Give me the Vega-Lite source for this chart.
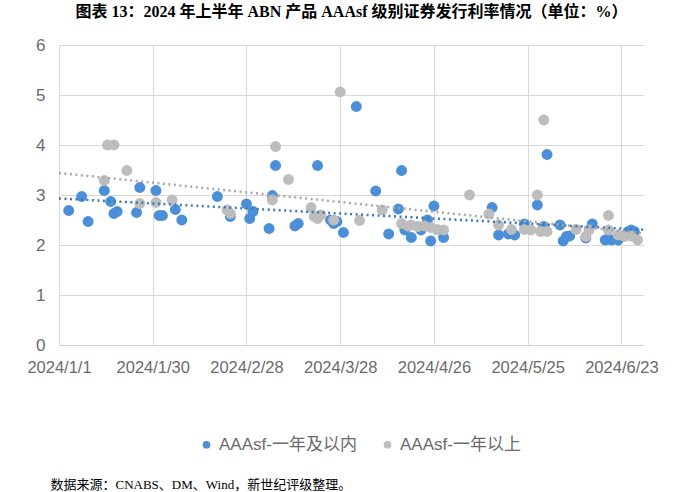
{
  "$schema": "https://vega.github.io/schema/vega-lite/v6.json",
  "width": 585,
  "height": 300,
  "autosize": {"type": "none"},
  "padding": {"left": 59, "top": 45, "right": 56, "bottom": 147},
  "background": "white",
  "title": {
    "text": "图表 13：2024 年上半年 ABN 产品 AAAsf 级别证券发行利率情况（单位：%）",
    "font": "Liberation Serif, Noto Sans CJK SC",
    "fontSize": 16,
    "fontWeight": "bold",
    "color": "#000000",
    "anchor": "middle",
    "offset": 16
  },
  "config": {
    "view": {"stroke": null},
    "axis": {"labelFont": "Liberation Sans", "labelColor": "#6b6b6b", "gridColor": "#d9d9d9", "gridWidth": 1, "ticks": false}
  },
  "data": {
    "format": {"parse": {"date": "date"}},
    "values": [
      {"date": "2024-01-04", "rate": 2.69, "series": "AAAsf-一年及以内"},
      {"date": "2024-01-08", "rate": 2.97, "series": "AAAsf-一年及以内"},
      {"date": "2024-01-10", "rate": 2.47, "series": "AAAsf-一年及以内"},
      {"date": "2024-01-15", "rate": 3.09, "series": "AAAsf-一年及以内"},
      {"date": "2024-01-17", "rate": 2.87, "series": "AAAsf-一年及以内"},
      {"date": "2024-01-18", "rate": 2.63, "series": "AAAsf-一年及以内"},
      {"date": "2024-01-19", "rate": 2.67, "series": "AAAsf-一年及以内"},
      {"date": "2024-01-25", "rate": 2.65, "series": "AAAsf-一年及以内"},
      {"date": "2024-01-26", "rate": 3.15, "series": "AAAsf-一年及以内"},
      {"date": "2024-01-31", "rate": 3.09, "series": "AAAsf-一年及以内"},
      {"date": "2024-02-01", "rate": 2.59, "series": "AAAsf-一年及以内"},
      {"date": "2024-02-02", "rate": 2.59, "series": "AAAsf-一年及以内"},
      {"date": "2024-02-06", "rate": 2.71, "series": "AAAsf-一年及以内"},
      {"date": "2024-02-08", "rate": 2.5, "series": "AAAsf-一年及以内"},
      {"date": "2024-02-19", "rate": 2.97, "series": "AAAsf-一年及以内"},
      {"date": "2024-02-23", "rate": 2.57, "series": "AAAsf-一年及以内"},
      {"date": "2024-02-28", "rate": 2.82, "series": "AAAsf-一年及以内"},
      {"date": "2024-02-29", "rate": 2.53, "series": "AAAsf-一年及以内"},
      {"date": "2024-03-01", "rate": 2.67, "series": "AAAsf-一年及以内"},
      {"date": "2024-03-06", "rate": 2.33, "series": "AAAsf-一年及以内"},
      {"date": "2024-03-07", "rate": 2.99, "series": "AAAsf-一年及以内"},
      {"date": "2024-03-08", "rate": 3.59, "series": "AAAsf-一年及以内"},
      {"date": "2024-03-14", "rate": 2.38, "series": "AAAsf-一年及以内"},
      {"date": "2024-03-15", "rate": 2.43, "series": "AAAsf-一年及以内"},
      {"date": "2024-03-21", "rate": 3.59, "series": "AAAsf-一年及以内"},
      {"date": "2024-03-25", "rate": 2.5, "series": "AAAsf-一年及以内"},
      {"date": "2024-03-26", "rate": 2.43, "series": "AAAsf-一年及以内"},
      {"date": "2024-03-27", "rate": 2.47, "series": "AAAsf-一年及以内"},
      {"date": "2024-03-29", "rate": 2.25, "series": "AAAsf-一年及以内"},
      {"date": "2024-04-02", "rate": 4.77, "series": "AAAsf-一年及以内"},
      {"date": "2024-04-08", "rate": 3.08, "series": "AAAsf-一年及以内"},
      {"date": "2024-04-12", "rate": 2.22, "series": "AAAsf-一年及以内"},
      {"date": "2024-04-15", "rate": 2.72, "series": "AAAsf-一年及以内"},
      {"date": "2024-04-16", "rate": 3.49, "series": "AAAsf-一年及以内"},
      {"date": "2024-04-17", "rate": 2.3, "series": "AAAsf-一年及以内"},
      {"date": "2024-04-19", "rate": 2.15, "series": "AAAsf-一年及以内"},
      {"date": "2024-04-22", "rate": 2.3, "series": "AAAsf-一年及以内"},
      {"date": "2024-04-24", "rate": 2.5, "series": "AAAsf-一年及以内"},
      {"date": "2024-04-25", "rate": 2.08, "series": "AAAsf-一年及以内"},
      {"date": "2024-04-26", "rate": 2.78, "series": "AAAsf-一年及以内"},
      {"date": "2024-04-29", "rate": 2.15, "series": "AAAsf-一年及以内"},
      {"date": "2024-05-14", "rate": 2.75, "series": "AAAsf-一年及以内"},
      {"date": "2024-05-16", "rate": 2.2, "series": "AAAsf-一年及以内"},
      {"date": "2024-05-19", "rate": 2.22, "series": "AAAsf-一年及以内"},
      {"date": "2024-05-21", "rate": 2.2, "series": "AAAsf-一年及以内"},
      {"date": "2024-05-24", "rate": 2.42, "series": "AAAsf-一年及以内"},
      {"date": "2024-05-28", "rate": 2.8, "series": "AAAsf-一年及以内"},
      {"date": "2024-05-30", "rate": 2.37, "series": "AAAsf-一年及以内"},
      {"date": "2024-05-31", "rate": 3.81, "series": "AAAsf-一年及以内"},
      {"date": "2024-06-04", "rate": 2.4, "series": "AAAsf-一年及以内"},
      {"date": "2024-06-05", "rate": 2.08, "series": "AAAsf-一年及以内"},
      {"date": "2024-06-06", "rate": 2.17, "series": "AAAsf-一年及以内"},
      {"date": "2024-06-07", "rate": 2.18, "series": "AAAsf-一年及以内"},
      {"date": "2024-06-12", "rate": 2.14, "series": "AAAsf-一年及以内"},
      {"date": "2024-06-14", "rate": 2.42, "series": "AAAsf-一年及以内"},
      {"date": "2024-06-18", "rate": 2.1, "series": "AAAsf-一年及以内"},
      {"date": "2024-06-19", "rate": 2.12, "series": "AAAsf-一年及以内"},
      {"date": "2024-06-20", "rate": 2.1, "series": "AAAsf-一年及以内"},
      {"date": "2024-06-22", "rate": 2.1, "series": "AAAsf-一年及以内"},
      {"date": "2024-06-25", "rate": 2.26, "series": "AAAsf-一年及以内"},
      {"date": "2024-06-26", "rate": 2.3, "series": "AAAsf-一年及以内"},
      {"date": "2024-06-27", "rate": 2.27, "series": "AAAsf-一年及以内"},
      {"date": "2024-01-15", "rate": 3.29, "series": "AAAsf-一年以上"},
      {"date": "2024-01-16", "rate": 4.0, "series": "AAAsf-一年以上"},
      {"date": "2024-01-18", "rate": 4.0, "series": "AAAsf-一年以上"},
      {"date": "2024-01-22", "rate": 3.49, "series": "AAAsf-一年以上"},
      {"date": "2024-01-26", "rate": 2.83, "series": "AAAsf-一年以上"},
      {"date": "2024-01-31", "rate": 2.85, "series": "AAAsf-一年以上"},
      {"date": "2024-02-05", "rate": 2.9, "series": "AAAsf-一年以上"},
      {"date": "2024-02-22", "rate": 2.7, "series": "AAAsf-一年以上"},
      {"date": "2024-02-23", "rate": 2.63, "series": "AAAsf-一年以上"},
      {"date": "2024-03-07", "rate": 2.9, "series": "AAAsf-一年以上"},
      {"date": "2024-03-08", "rate": 3.97, "series": "AAAsf-一年以上"},
      {"date": "2024-03-12", "rate": 3.31, "series": "AAAsf-一年以上"},
      {"date": "2024-03-19", "rate": 2.75, "series": "AAAsf-一年以上"},
      {"date": "2024-03-20", "rate": 2.57, "series": "AAAsf-一年以上"},
      {"date": "2024-03-21", "rate": 2.53, "series": "AAAsf-一年以上"},
      {"date": "2024-03-22", "rate": 2.6, "series": "AAAsf-一年以上"},
      {"date": "2024-03-26", "rate": 2.5, "series": "AAAsf-一年以上"},
      {"date": "2024-03-28", "rate": 5.06, "series": "AAAsf-一年以上"},
      {"date": "2024-04-03", "rate": 2.49, "series": "AAAsf-一年以上"},
      {"date": "2024-04-10", "rate": 2.7, "series": "AAAsf-一年以上"},
      {"date": "2024-04-16", "rate": 2.43, "series": "AAAsf-一年以上"},
      {"date": "2024-04-18", "rate": 2.38, "series": "AAAsf-一年以上"},
      {"date": "2024-04-19", "rate": 2.4, "series": "AAAsf-一年以上"},
      {"date": "2024-04-21", "rate": 2.37, "series": "AAAsf-一年以上"},
      {"date": "2024-04-23", "rate": 2.38, "series": "AAAsf-一年以上"},
      {"date": "2024-04-25", "rate": 2.35, "series": "AAAsf-一年以上"},
      {"date": "2024-04-27", "rate": 2.31, "series": "AAAsf-一年以上"},
      {"date": "2024-04-29", "rate": 2.3, "series": "AAAsf-一年以上"},
      {"date": "2024-05-07", "rate": 3.0, "series": "AAAsf-一年以上"},
      {"date": "2024-05-13", "rate": 2.62, "series": "AAAsf-一年以上"},
      {"date": "2024-05-16", "rate": 2.4, "series": "AAAsf-一年以上"},
      {"date": "2024-05-20", "rate": 2.31, "series": "AAAsf-一年以上"},
      {"date": "2024-05-24", "rate": 2.31, "series": "AAAsf-一年以上"},
      {"date": "2024-05-26", "rate": 2.3, "series": "AAAsf-一年以上"},
      {"date": "2024-05-28", "rate": 3.0, "series": "AAAsf-一年以上"},
      {"date": "2024-05-30", "rate": 4.5, "series": "AAAsf-一年以上"},
      {"date": "2024-05-29", "rate": 2.27, "series": "AAAsf-一年以上"},
      {"date": "2024-05-31", "rate": 2.27, "series": "AAAsf-一年以上"},
      {"date": "2024-06-09", "rate": 2.31, "series": "AAAsf-一年以上"},
      {"date": "2024-06-12", "rate": 2.17, "series": "AAAsf-一年以上"},
      {"date": "2024-06-13", "rate": 2.3, "series": "AAAsf-一年以上"},
      {"date": "2024-06-19", "rate": 2.59, "series": "AAAsf-一年以上"},
      {"date": "2024-06-19", "rate": 2.3, "series": "AAAsf-一年以上"},
      {"date": "2024-06-22", "rate": 2.2, "series": "AAAsf-一年以上"},
      {"date": "2024-06-24", "rate": 2.17, "series": "AAAsf-一年以上"},
      {"date": "2024-06-26", "rate": 2.18, "series": "AAAsf-一年以上"},
      {"date": "2024-06-28", "rate": 2.1, "series": "AAAsf-一年以上"}
    ]
  },
  "layer": [
    {
      "mark": {"type": "circle", "size": 120, "opacity": 1},
      "encoding": {
        "x": {
          "field": "date",
          "type": "temporal",
          "scale": {"domain": [{"year": 2024, "month": 1, "date": 1}, {"year": 2024, "month": 6, "date": 30}]},
          "axis": {
            "values": [
              {"year": 2024, "month": 1, "date": 1},
              {"year": 2024, "month": 1, "date": 30},
              {"year": 2024, "month": 2, "date": 28},
              {"year": 2024, "month": 3, "date": 28},
              {"year": 2024, "month": 4, "date": 26},
              {"year": 2024, "month": 5, "date": 25},
              {"year": 2024, "month": 6, "date": 23}
            ],
            "format": "%Y/%-m/%-d",
            "labelFontSize": 16.5,
            "labelPadding": 14,
            "labelFlush": false,
            "labelOverlap": false,
            "grid": true,
            "domainColor": "#d0d0d0",
            "title": "数据来源：CNABS、DM、Wind，新世纪评级整理。",
            "titleFont": "Liberation Serif, Noto Sans CJK SC",
            "titleFontSize": 13,
            "titleFontWeight": "normal",
            "titleColor": "#000000",
            "titleAlign": "left",
            "titleBaseline": "middle",
            "titleAnchor": "start",
            "titleX": -9,
            "titleY": 139
          }
        },
        "y": {
          "field": "rate",
          "type": "quantitative",
          "scale": {"domain": [0, 6]},
          "axis": {"values": [0, 1, 2, 3, 4, 5, 6], "labelFontSize": 17, "labelPadding": 14, "domain": false, "grid": true, "title": null}
        },
        "color": {
          "field": "series",
          "type": "nominal",
          "scale": {"domain": ["AAAsf-一年及以内", "AAAsf-一年以上"], "range": ["#4a8fd8", "#bdbdbd"]},
          "legend": {
            "orient": "none",
            "legendX": 139,
            "legendY": 391,
            "direction": "horizontal",
            "title": null,
            "symbolType": "circle",
            "symbolSize": 60,
            "labelFont": "Liberation Sans, Noto Sans CJK SC",
            "labelFontSize": 17,
            "labelColor": "#6b6b6b",
            "columnPadding": 22,
            "labelOffset": 4
          }
        }
      }
    },
    {
      "transform": [
        {"regression": "rate", "on": "date", "groupby": ["series"], "extent": [1704067200000, 1719705600000]}
      ],
      "mark": {"type": "line", "strokeDash": [2, 3.5], "strokeWidth": 2.5},
      "encoding": {
        "x": {"field": "date", "type": "temporal"},
        "y": {"field": "rate", "type": "quantitative"},
        "color": {
          "field": "series",
          "type": "nominal",
          "scale": {"domain": ["AAAsf-一年及以内", "AAAsf-一年以上"], "range": ["#3d78b8", "#a8a8a8"]},
          "legend": null
        }
      }
    }
  ],
  "resolve": {"scale": {"color": "independent"}}
}
